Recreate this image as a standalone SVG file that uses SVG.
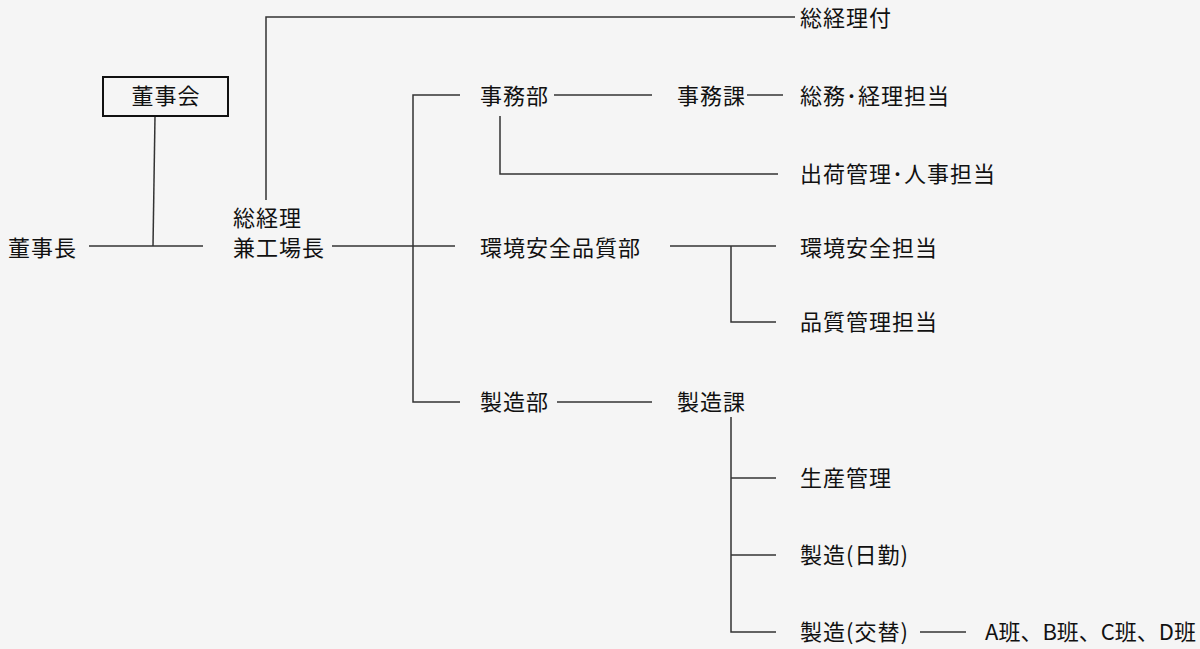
<svg xmlns="http://www.w3.org/2000/svg" width="1200" height="649" viewBox="0 0 1200 649">
<style>
text{font-family:"Noto Sans CJK JP","Noto Sans CJK SC",sans-serif;font-size:22px;letter-spacing:1px;fill:#111}
.c line,.c polyline{stroke:#333;stroke-width:1.5;fill:none}
</style>
<rect width="1200" height="649" fill="#f5f5f5"/>
<g class="c" id="connectors">
<line x1="155" y1="116" x2="153" y2="246"/>
<line x1="89" y1="246" x2="203" y2="246"/>
<polyline points="266,200 266,17 795,17"/>
<line x1="332" y1="246" x2="455" y2="246"/>
<polyline points="460,95 413,95 413,402 460,402"/>
<line x1="554" y1="95" x2="652" y2="95"/>
<line x1="747" y1="95" x2="783" y2="95"/>
<polyline points="500,116 500,174 778,174"/>
<line x1="670" y1="246" x2="776" y2="246"/>
<polyline points="731,246 731,322 776,322"/>
<line x1="557" y1="402" x2="652" y2="402"/>
<polyline points="731,417 731,632 776,632"/>
<line x1="731" y1="478" x2="776" y2="478"/>
<line x1="731" y1="555" x2="776" y2="555"/>
<line x1="920" y1="632" x2="966" y2="632"/>
</g>
<g id="board"><rect x="103" y="77" width="125" height="39" fill="none" stroke="#111" stroke-width="2"/><text x="166" y="104" text-anchor="middle">董事会</text></g>
<g id="chairman"><text x="8" y="256">董事長</text></g>
<g id="gm"><text x="233" y="226">総経理</text><text x="233" y="256">兼工場長</text></g>
<g id="gm-staff"><text x="800" y="26">総経理付</text></g>
<g id="admin-dept"><text x="480" y="104">事務部</text></g>
<g id="admin-sec"><text x="677" y="104">事務課</text></g>
<g id="general-acct"><text x="800" y="104">総務･経理担当</text></g>
<g id="ship-hr"><text x="800" y="182">出荷管理･人事担当</text></g>
<g id="esq-dept"><text x="480" y="256">環境安全品質部</text></g>
<g id="env-safety"><text x="800" y="256">環境安全担当</text></g>
<g id="qc"><text x="800" y="330">品質管理担当</text></g>
<g id="mfg-dept"><text x="480" y="410">製造部</text></g>
<g id="mfg-sec"><text x="677" y="410">製造課</text></g>
<g id="prod-ctrl"><text x="800" y="486">生産管理</text></g>
<g id="mfg-day"><text x="800" y="563">製造(日勤)</text></g>
<g id="mfg-shift"><text x="800" y="640">製造(交替)</text></g>
<g id="teams"><text x="985" y="640" style="letter-spacing:0">A班、B班、C班、D班</text></g>
</svg>
